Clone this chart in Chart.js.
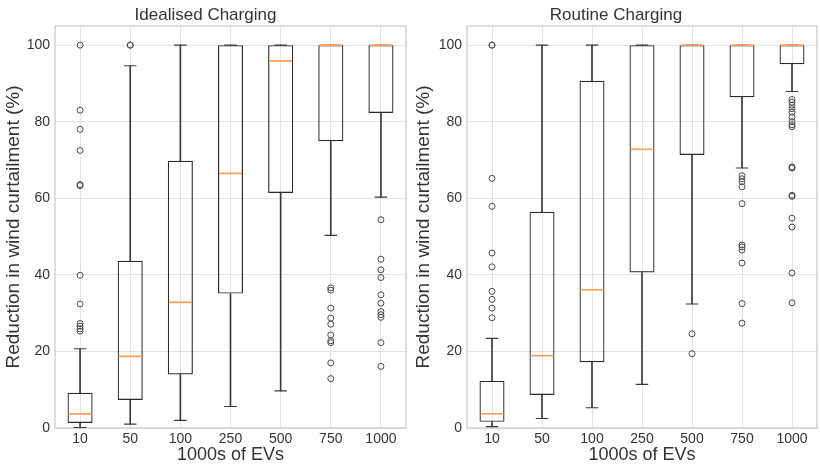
<!DOCTYPE html>
<html>
<head>
<meta charset="utf-8">
<script src="https://cdn.jsdelivr.net/npm/chart.js@4.4.1/dist/chart.umd.min.js"></script>
<style>
  html, body { margin: 0; padding: 0; background: #ffffff; overflow: hidden; width: 820px; height: 464px; }
  #wrapL { position: absolute; left: 0; top: 0; width: 411px; height: 464px; }
  #wrapR { position: absolute; left: 410px; top: 0; width: 412px; height: 464px; }
</style>
</head>
<body>
<div id="wrapL"><canvas id="left" width="411" height="464"></canvas></div>
<div id="wrapR"><canvas id="right" width="412" height="464"></canvas></div>
<script>
// ---------- DATA ----------
const categories = ['10', '50', '100', '250', '500', '750', '1000'];
const yTickValues = [0, 20, 40, 60, 80, 100];

// Idealised Charging
const idealQ1  = [1.3, 7.3, 14.0, 35.1, 61.4, 74.9, 82.3];
const idealMed = [3.7, 18.7, 32.8, 66.5, 95.9, 100, 100];
const idealQ3  = [9.2, 43.7, 69.8, 100, 100, 100, 100];
const idealLo  = [0.1, 1.0, 2.0, 5.6, 9.7, 50.3, 60.3];
const idealHi  = [20.7, 94.6, 100, 100, 100, 100, 100];
const idealOutliers = [
  [25.3, 25.9, 26.6, 27.3, 32.4, 39.9, 63.3, 63.6, 72.5, 78.0, 83.0, 100],
  [100, 100],
  [],
  [],
  [],
  [36.6, 36.0, 31.3, 28.7, 27.1, 24.3, 22.8, 22.3, 17.0, 12.9],
  [54.4, 44.1, 41.3, 39.3, 34.8, 32.6, 30.4, 29.6, 28.9, 22.3, 16.1]
];

// Routine Charging
const routQ1  = [1.6, 8.6, 17.2, 40.6, 71.3, 86.4, 95.0];
const routMed = [3.7, 18.9, 36.1, 72.8, 100, 100, 100];
const routQ3  = [12.3, 56.5, 90.7, 100, 100, 100, 100];
const routLo  = [0.35, 2.5, 5.3, 11.4, 32.4, 67.9, 87.9];
const routHi  = [23.4, 100, 100, 100, 100, 100, 100];
const routOutliers = [
  [28.8, 31.3, 33.6, 35.7, 42.1, 45.7, 57.9, 65.2, 100, 100],
  [],
  [],
  [],
  [24.6, 19.4],
  [65.9, 65.1, 64.3, 63.0, 58.6, 47.8, 47.3, 46.5, 43.1, 32.5, 27.4],
  [85.8, 85.1, 84.3, 83.4, 82.5, 81.2, 80.0, 79.2, 78.7, 68.2, 67.9, 60.8, 60.5, 54.8, 52.5, 40.5, 32.7]
];

// ---------- STYLE ----------
const FONT = "'Liberation Sans', Arial, sans-serif";
const TEXT = '#333333';
const GRID = '#e3e3e3';
const FRAME = '#cccccc';
const BOXC = '#2b2b2b';
const WHISK = '#3a3a3a';
const MEDC = '#ff9f5a';
const OUTC = '#4a4a4a';

const framePlugin = {
  id: 'frame',
  beforeDatasetsDraw(chart) {
    const a = chart.chartArea, ctx = chart.ctx;
    ctx.save();
    ctx.strokeStyle = FRAME;
    ctx.lineWidth = 1.3;
    ctx.strokeRect(a.left, a.top, a.right - a.left, a.bottom - a.top);
    ctx.restore();
  }
};

function unitPx(ctx) {
  const s = ctx.chart.scales.x;
  return Math.abs(s.getPixelForValue(1) - s.getPixelForValue(0));
}

function makeChart(id, title, q1, med, q3, lo, hi, outliers, yWidth) {
  const outPts = [];
  outliers.forEach((arr, i) => arr.forEach(v => outPts.push({ x: categories[i], y: v })));
  const capPts = [];
  lo.forEach((v, i) => capPts.push({ x: categories[i], y: v }));
  hi.forEach((v, i) => capPts.push({ x: categories[i], y: v }));
  const medPts = med.map((v, i) => ({ x: categories[i], y: v }));

  return new Chart(document.getElementById(id), {
    data: {
      labels: categories,
      datasets: [
        {
          type: 'bar', label: 'box',
          data: q1.map((v, i) => [v, q3[i]]),
          backgroundColor: 'rgba(0,0,0,0)', borderColor: BOXC, borderWidth: 1.2,
          borderSkipped: false, barPercentage: 0.5, categoryPercentage: 1, grouped: false, order: 3
        },
        {
          type: 'bar', label: 'lower whisker',
          data: lo.map((v, i) => [v, q1[i]]),
          backgroundColor: WHISK, borderWidth: 0, barThickness: 1, grouped: false, order: 4
        },
        {
          type: 'bar', label: 'upper whisker',
          data: q3.map((v, i) => [v, hi[i]]),
          backgroundColor: WHISK, borderWidth: 0, barThickness: 1, grouped: false, order: 4
        },
        {
          type: 'scatter', label: 'caps', data: capPts,
          pointStyle: 'line', pointBorderColor: WHISK, pointBorderWidth: 1.1,
          pointRadius: (c) => unitPx(c) * 0.125, order: 2
        },
        {
          type: 'scatter', label: 'median', data: medPts,
          pointStyle: 'line', pointBorderColor: MEDC, pointBorderWidth: 1.6,
          pointRadius: (c) => unitPx(c) * 0.25 - 1, order: 1
        },
        {
          type: 'scatter', label: 'outliers', data: outPts,
          pointStyle: 'circle', pointBackgroundColor: 'rgba(0,0,0,0)',
          pointBorderColor: OUTC, pointBorderWidth: 1, pointRadius: 3, order: 0
        }
      ]
    },
    options: {
      responsive: false,
      animation: false,
      events: [],
      layout: { padding: { left: 0, right: 0, top: 0, bottom: 0 } },
      plugins: {
        legend: { display: false },
        tooltip: { enabled: false },
        title: {
          display: true, text: title, color: TEXT,
          font: { family: FONT, size: 17, weight: 'normal', lineHeight: 1.2 },
          padding: { top: 5, bottom: 0.6 }
        }
      },
      scales: {
        x: {
          type: 'category',
          offset: true,
          grid: { display: true, offset: false, color: GRID, lineWidth: 1, drawTicks: false },
          border: { display: false },
          ticks: { color: TEXT, font: { family: FONT, size: 14 }, padding: 3, maxRotation: 0 },
          title: {
            display: true, text: '1000s of EVs', color: TEXT,
            font: { family: FONT, size: 18, lineHeight: 1 }, padding: { top: 0, bottom: 0 }
          },
          afterFit(scale) { scale.height = 36; }
        },
        y: {
          type: 'linear', min: 0, max: 105,
          afterBuildTicks(scale) { scale.ticks = yTickValues.map(v => ({ value: v })); },
          grid: { display: true, color: GRID, lineWidth: 1, drawTicks: false },
          border: { display: false },
          ticks: { color: TEXT, font: { family: FONT, size: 14 }, padding: 5 },
          title: {
            display: true, text: 'Reduction in wind curtailment (%)', color: TEXT,
            font: { family: FONT, size: 19, lineHeight: 1 }, padding: { top: 4, bottom: 0 }
          },
          afterFit(scale) { scale.width = yWidth; }
        }
      }
    },
    plugins: [framePlugin]
  });
}

makeChart('left', 'Idealised Charging', idealQ1, idealMed, idealQ3, idealLo, idealHi, idealOutliers, 55);
makeChart('right', 'Routine Charging', routQ1, routMed, routQ3, routLo, routHi, routOutliers, 57);
</script>
</body>
</html>
